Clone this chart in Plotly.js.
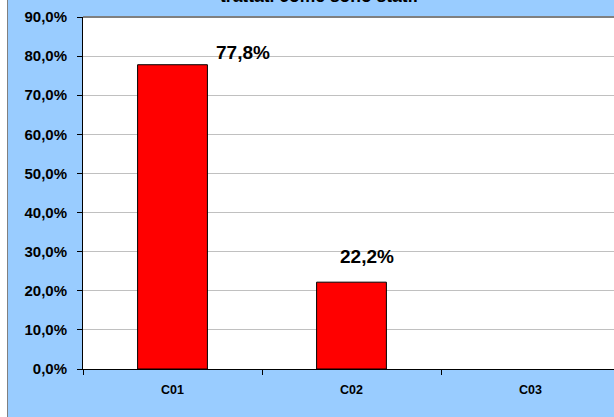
<!DOCTYPE html>
<html>
<head>
<meta charset="utf-8">
<script src="https://cdn.plot.ly/plotly-3.0.1.min.js"></script>
<style>
html,body{margin:0;padding:0;background:#ffffff;overflow:hidden;width:614px;height:417px;}
#wrap{position:absolute;left:7px;top:0;width:614px;height:417px;border-left:1px solid #808080;background:#99CCFF;}
#chart{width:614px;height:417px;}
</style>
</head>
<body>
<div id="wrap"><div id="chart"></div></div>
<script>
const categories = ['C01', 'C02', 'C03'];
const values = [77.8, 22.2, null];
const labels = ['77,8%', '22,2%', ''];
const titleText = 'trattati come sono stati:';

const labelShiftX = [70, 15, 0];
const labelShiftY = [0, 13, 0];

const FONT = 'Arial, Liberation Sans, sans-serif';
const annotations = [];
categories.forEach((c, i) => {
  if (values[i] !== null) {
    annotations.push({
      x: c, y: values[i], xref: 'x', yref: 'y',
      text: '<b>' + labels[i] + '</b>', showarrow: false,
      yanchor: 'bottom', xshift: labelShiftX[i], yshift: labelShiftY[i],
      font: {family: FONT, size: 19, color: '#000'}
    });
  }
});
annotations.push({
  x: 0.44, y: 1, xref: 'paper', yref: 'paper', yanchor: 'bottom', yshift: 9,
  text: '<b>' + titleText + '</b>', showarrow: false,
  font: {family: FONT, size: 17.5, color: '#000'}
});

Plotly.newPlot('chart', [{
  type: 'bar', x: categories, y: values,
  marker: {color: '#FF0000', line: {color: '#000000', width: 1}},
  hoverinfo: 'none'
}], {
  width: 614, height: 417,
  margin: {l: 75, r: 2, t: 17, b: 48},
  paper_bgcolor: '#99CCFF', plot_bgcolor: '#FFFFFF',
  separators: ', ',
  bargap: 0.61,
  showlegend: false,
  font: {family: FONT, color: '#000'},
  xaxis: {
    type: 'category', showgrid: false, showline: true, linecolor: '#000', linewidth: 1,
    ticks: 'outside', tickson: 'boundaries', ticklen: 5, tickcolor: '#000',
    ticklabelstandoff: 9,
    tickfont: {size: 12.5, weight: 'bold'}, zeroline: false
  },
  yaxis: {
    range: [0, 90], dtick: 10, tickformat: '.1f', ticksuffix: '%',
    showgrid: true, gridcolor: '#C0C0C0', gridwidth: 1,
    showline: true, linecolor: '#000', linewidth: 1,
    ticks: 'outside', ticklen: 5, tickcolor: '#000',
    ticklabelstandoff: 7,
    tickfont: {size: 15, weight: 'bold'}, zeroline: false
  },
  shapes: [{
    type: 'line', xref: 'paper', yref: 'paper', x0: 0, x1: 1, y0: 1, y1: 1,
    line: {color: '#808080', width: 2}
  }],
  annotations: annotations
}, {displayModeBar: false, staticPlot: true});
</script>
</body>
</html>
